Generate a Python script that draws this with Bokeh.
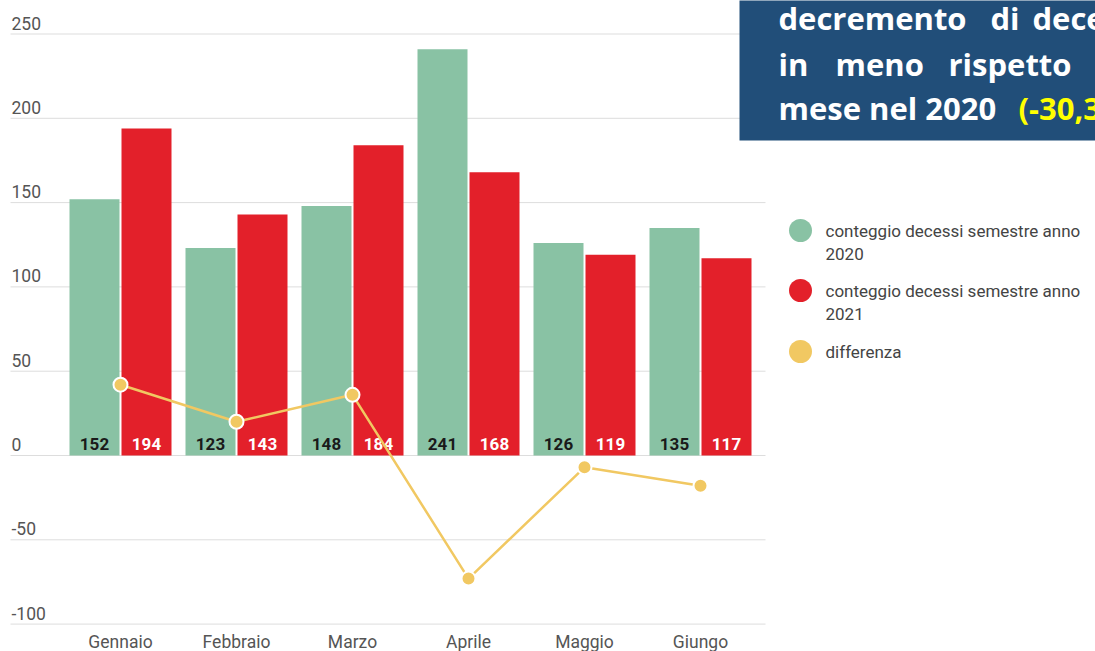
from bokeh.plotting import figure
from bokeh.embed import file_html
from bokeh.resources import INLINE
from bokeh.models import Range1d
from bokeh.core.properties import value

# ---------------- data ----------------
months = ["Gennaio", "Febbraio", "Marzo", "Aprile", "Maggio", "Giungo"]
deaths_2020 = [152, 123, 148, 241, 126, 135]
deaths_2021 = [194, 143, 184, 168, 119, 117]
differenza = [42, 20, 36, -73, -7, -18]
y_ticks = [250, 200, 150, 100, 50, 0, -50, -100]
legend_lines = [["conteggio decessi semestre anno", "2020"],
                ["conteggio decessi semestre anno", "2021"],
                ["differenza"]]
box_rows = [["decremento", "di", "decessi"],
            ["in", "meno", "rispetto"],
            ["mese nel 2020", "(-30,3%)"]]

# ---------------- style ----------------
GREEN = "#89c2a4"
RED = "#e3202a"
YELLOW = "#f1c862"
BLUE = "#214e79"
GRID = "#dddddd"
TXT = "#555555"
FONT = "Roboto"

# ---------------- geometry helpers ----------------
W, H = 1095, 651
PX = 116.0          # pixels per category
PY = 1.686          # pixels per unit
X0 = -120 / PX
X1 = X0 + W / PX
ZERO = 455          # pixel row of value 0
Y1 = ZERO / PY
Y0 = -(H - ZERO) / PY


def sx(px):
    return X0 + px / PX


def sy(py):
    return (ZERO - py) / PY


p = figure(width=W, height=H, x_range=Range1d(X0, X1), y_range=Range1d(Y0, Y1),
           min_border=0, x_axis_location=None, y_axis_location=None,
           toolbar_location=None, output_backend="svg",
           background_fill_color="white", border_fill_color="white",
           outline_line_color=None)
p.xgrid.visible = False
p.ygrid.visible = False

idx = list(range(len(months)))
off = 26 / PX
bw = 50 / PX

# gridlines + y tick labels (labels sit just above their gridline)
p.segment(x0=[sx(10)] * len(y_ticks), x1=[sx(765)] * len(y_ticks),
          y0=y_ticks, y1=y_ticks, line_color=GRID, line_width=1)
p.text(x=[sx(11)] * len(y_ticks), y=[t + 11 / PY for t in y_ticks],
       text=[str(t) for t in y_ticks],
       text_font=value(FONT), text_font_size="17.5px", text_color=TXT,
       text_align="left", text_baseline="middle")

# bars
p.vbar(x=[i - off for i in idx], top=deaths_2020, bottom=0, width=bw,
       fill_color=GREEN, line_color=None)
p.vbar(x=[i + off for i in idx], top=deaths_2021, bottom=0, width=bw,
       fill_color=RED, line_color=None)

# value labels inside bars
lab_y = 12 / PY
p.text(x=[i - off for i in idx], y=[lab_y] * len(idx), text=[str(v) for v in deaths_2020],
       text_font=value(FONT), text_font_size="17px", text_font_style="bold",
       text_color="#1a1a1a", text_align="center", text_baseline="middle")
p.text(x=[i + off for i in idx], y=[lab_y] * len(idx), text=[str(v) for v in deaths_2021],
       text_font=value(FONT), text_font_size="17px", text_font_style="bold",
       text_color="white", text_align="center", text_baseline="middle")

# differenza line
p.line(idx, differenza, line_color=YELLOW, line_width=2.5)
p.scatter(idx, differenza, size=14, fill_color=YELLOW, line_color="white", line_width=2)

# month labels
p.text(x=idx, y=[sy(641)] * len(idx), text=months,
       text_font=value(FONT), text_font_size="17.5px", text_color=TXT,
       text_align="center", text_baseline="middle")

# legend
leg_y = [230, 290, 351]
p.scatter(x=[sx(800)] * 3, y=[sy(v) for v in leg_y], size=23,
          fill_color=[GREEN, RED, YELLOW], line_color=None)
lx, ly, lt = [], [], []
for yy, lines in zip(leg_y, legend_lines):
    for k, t in enumerate(lines):
        lx.append(sx(825))
        ly.append(sy(yy + 23 * k))
        lt.append(t)
p.text(x=lx, y=ly, text=lt, text_font=value(FONT), text_font_size="17px",
       text_color="#444444", text_align="left", text_baseline="middle")

# blue callout box
p.quad(left=[sx(739)], right=[sx(1110)], top=[sy(-10)], bottom=[sy(140)],
       fill_color=BLUE, line_color=None)
row_base = [17, 63, 107]
row_x = [[778, 990, 1032], [778, 835, 948], [778, 1018]]
bx, by, bt, bc = [], [], [], []
for r, (words, xs) in enumerate(zip(box_rows, row_x)):
    for w, xx in zip(words, xs):
        bx.append(sx(xx))
        by.append(sy(row_base[r]))
        bt.append(w)
        bc.append("#ffff00" if w.startswith("(") else "white")
p.text(x=bx, y=by, text=bt, text_color=bc, text_font=value("Open Sans"),
       text_font_size="31px", text_font_style="bold",
       text_align="left", text_baseline="alphabetic")

open("out.html", "w").write(file_html(p, INLINE))
